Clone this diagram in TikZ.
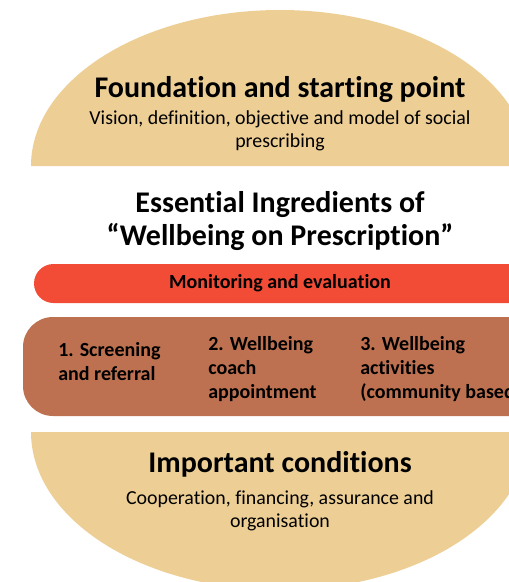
\documentclass[tikz,border=0pt]{standalone}
\usepackage{fontspec}
\setmainfont{Carlito}[Ligatures=CommonOff]
\usepackage{xcolor}
\usepackage{tikz}

\definecolor{bunColor}{RGB}{237,207,150}
\definecolor{monitorColor}{RGB}{242,76,55}
\definecolor{stepsColor}{RGB}{190,113,80}

\tikzset{
  headText/.style={inner sep=0.75pt, align=center, font=\fontsize{22.5}{24.75}\selectfont\bfseries},
  subText/.style={inner sep=0.75pt, align=center, font=\fontsize{14.9}{17.25}\selectfont},
  stepText/.style={inner sep=0.75pt, align=left, font=\fontsize{15}{18}\selectfont\bfseries},
}

\begin{document}
\begin{tikzpicture}[x=0.75pt,y=0.75pt,yscale=-1,xscale=1]
        \clip (0,0) rectangle (509,582);
        % buns
        \fill [bunColor] (31,166) arc [start angle=180, end angle=360, x radius=249, y radius=156] -- cycle;
        \fill [bunColor] (31,432) arc [start angle=180, end angle=0, x radius=249, y radius=158] -- cycle;
        % bars
        \fill [monitorColor, rounded corners=19.5*0.75pt] (34,264) rectangle (600,303);
        \fill [stepsColor, rounded corners=30*0.75pt] (23,317) rectangle (600,416);

        % texts, anchored at the baseline of their last line
        \draw (280,97) node [anchor=base][headText] (found) {Foundation and starting point};
        \draw (280,147) node [anchor=base][subText] (foundSub) {Vision, definition, objective and model of social\\prescribing};
        \draw (280,245) node [anchor=base][headText] (ingred) {Essential Ingredients of\\“Wellbeing on Prescription”};
        \draw (280,288) node [anchor=base][stepText] (monitor) {Monitoring and evaluation};
        \draw (57,380) node [anchor=base west][stepText] (stepOne) {1. Screening\\and referral};
        \draw (207,398) node [anchor=base west][stepText] (stepTwo) {2. Wellbeing\\coach\\appointment};
        \draw (359,398) node [anchor=base west][stepText] (stepThree) {3. Wellbeing\\activities\\(community based)};
        \draw (280,472) node [anchor=base][headText] (cond) {Important conditions};
        \draw (280,527) node [anchor=base][subText] (condSub) {Cooperation, financing, assurance and\\organisation};
\end{tikzpicture}
\end{document}
